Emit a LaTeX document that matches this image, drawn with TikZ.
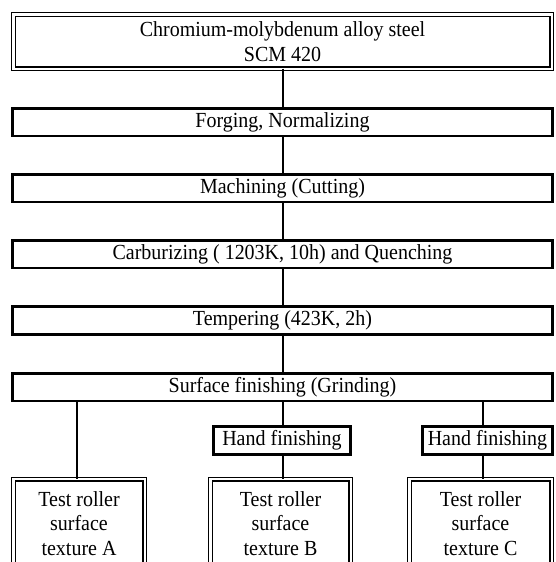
\documentclass[tikz,border=0pt]{standalone}
\usepackage{fontspec}
\setmainfont[FakeStretch=0.93]{Liberation Serif}
\begin{document}
\begin{tikzpicture}[x=1pt,y=-1pt,
  every node/.style={inner sep=0pt,outer sep=0pt,font=\fontsize{21.5}{24.5}\selectfont,align=center},
  thickbox/.style={draw,line width=2.8pt,rectangle,minimum height=27.8pt},
  dblbox/.style={draw,rectangle,line width=1.2pt,double,double distance=2.2pt},
  conn/.style={line width=1.8pt}]
\useasboundingbox (0,0) rectangle (555,562);
\clip (0,0) rectangle (555,562);
\fill[white] (0,0) rectangle (555,562);
% main column
\node[dblbox,minimum width=538.2pt,minimum height=54.2pt] (top) at (282.5,41.5)
  {Chromium-molybdenum alloy steel\\SCM 420};
\node[thickbox,minimum width=540.2pt] (forg) at (282.5,122) {Forging, Normalizing};
\node[thickbox,minimum width=540.2pt] (mach) at (282.5,188) {Machining (Cutting)};
\node[thickbox,minimum width=540.2pt] (carb) at (282.5,254) {Carburizing ( 1203K, 10h) and Quenching};
\node[thickbox,minimum width=540.2pt] (temp) at (282.5,320.5) {Tempering (423K, 2h)};
\node[thickbox,minimum width=540.2pt] (surf) at (282.5,387) {Surface finishing (Grinding)};
% hand finishing
\node[thickbox,minimum width=137.2pt] (handB) at (282,440.5) {Hand finishing};
\node[thickbox,minimum width=130.2pt] (handC) at (487.5,440.5) {Hand finishing};
% test rollers
\node[dblbox,minimum width=131.2pt,minimum height=87.7pt] (testA) at (79,523.2)
  {Test roller\\surface\\texture A};
\node[dblbox,minimum width=140.2pt,minimum height=87.7pt] (testB) at (280.5,523.2)
  {Test roller\\surface\\texture B};
\node[dblbox,minimum width=142.2pt,minimum height=87.7pt] (testC) at (480.5,523.2)
  {Test roller\\surface\\texture C};
\coordinate (xa) at (77,0);
\coordinate (xb) at (283,0);
\coordinate (xc) at (483,0);
% connectors
\draw[conn] (top.south -| xb) -- (forg.north -| xb);
\draw[conn] (forg.south -| xb) -- (mach.north -| xb);
\draw[conn] (mach.south -| xb) -- (carb.north -| xb);
\draw[conn] (carb.south -| xb) -- (temp.north -| xb);
\draw[conn] (temp.south -| xb) -- (surf.north -| xb);
\draw[conn] (surf.south -| xa) -- (testA.north -| xa);
\draw[conn] (surf.south -| xb) -- (handB.north -| xb);
\draw[conn] (surf.south -| xc) -- (handC.north -| xc);
\draw[conn] (handB.south -| xb) -- (testB.north -| xb);
\draw[conn] (handC.south -| xc) -- (testC.north -| xc);
\end{tikzpicture}
\end{document}
